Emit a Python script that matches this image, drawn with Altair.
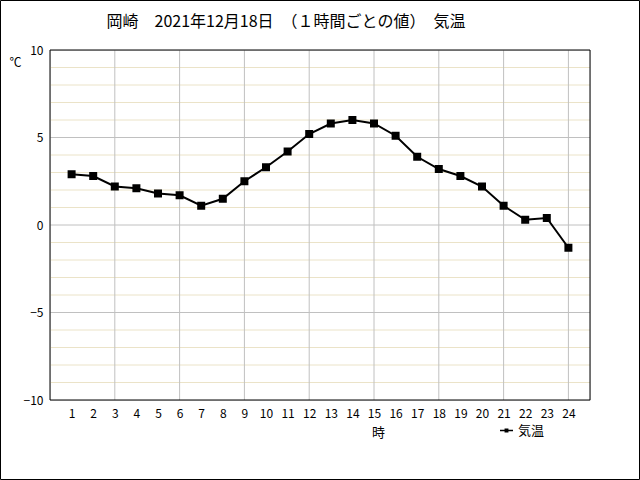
import altair as alt
import pandas as pd

# ---- data ----
hours = list(range(1, 25))
temps = [2.9, 2.8, 2.2, 2.1, 1.8, 1.7, 1.1, 1.5, 2.5, 3.3, 4.2, 5.2,
         5.8, 6.0, 5.8, 5.1, 3.9, 3.2, 2.8, 2.2, 1.1, 0.3, 0.4, -1.3]
y_ticks = [-10, -5, 0, 5, 10]
y_major = [-5, 0, 5]
y_minor = [-9, -8, -7, -6, -4, -3, -2, -1, 1, 2, 3, 4, 6, 7, 8, 9]
x_grid = [3, 6, 9, 12, 15, 18, 21, 24]
series_name = "気温"
title_text = "岡崎　2021年12月18日　（１時間ごとの値）　気温"

FONT = "Noto Sans CJK JP"

df = pd.DataFrame({"hour": hours, "temp": temps, "series": series_name})
xs = alt.Scale(domain=[0, 25], nice=False, zero=False)
ys = alt.Scale(domain=[-10, 10], nice=False, zero=False)

xaxis = alt.Axis(values=hours, grid=False, ticks=False, domain=False,
                 labelFont=FONT, labelFontSize=12, labelColor="black",
                 labelPadding=8, title="時", titleFont=FONT,
                 titleFontSize=13, titleFontWeight="normal", titleColor="black",
                 titleX=328, titleY=32, titleBaseline="middle")
yaxis = alt.Axis(values=y_ticks, grid=False, ticks=False, domain=False,
                 labelFont=FONT, labelFontSize=12, labelColor="black",
                 labelPadding=7, title="℃", titleAngle=0,
                 titleFont=FONT, titleFontSize=12, titleColor="black",
                 titleFontWeight="normal", titleX=-35, titleY=12,
                 titleAlign="center", titleBaseline="middle")

minor = alt.Chart(pd.DataFrame({"temp": y_minor})).mark_rule(
    color="#ebe3c8", strokeWidth=1
).encode(y=alt.Y("temp:Q", scale=ys, axis=yaxis))

major = alt.Chart(pd.DataFrame({"temp": y_major})).mark_rule(
    color="#c0c0c0", strokeWidth=1
).encode(y=alt.Y("temp:Q", scale=ys, axis=yaxis))

vgrid = alt.Chart(pd.DataFrame({"hour": x_grid})).mark_rule(
    color="#c0c0c0", strokeWidth=1
).encode(x=alt.X("hour:Q", scale=xs, axis=xaxis))

color = alt.Color(
    "series:N",
    scale=alt.Scale(domain=[series_name], range=["black"]),
    legend=alt.Legend(
        title=None, orient="none", legendX=450, legendY=374,
        symbolType="M-1,-0.12H1V0.12H-1Z M-0.3,-0.3H0.3V0.3H-0.3Z",
        symbolSize=169, symbolFillColor="black", symbolStrokeWidth=0,
        labelFont=FONT, labelFontSize=13, labelColor="black", labelOffset=5,
        padding=0,
    ),
)

line = alt.Chart(df).mark_line(strokeWidth=2).encode(
    x=alt.X("hour:Q", scale=xs, axis=xaxis),
    y=alt.Y("temp:Q", scale=ys, axis=yaxis),
    color=color,
)

points = alt.Chart(df).mark_square(size=64, opacity=1, filled=True).encode(
    x=alt.X("hour:Q", scale=xs, axis=xaxis),
    y=alt.Y("temp:Q", scale=ys, axis=yaxis),
    color=alt.Color("series:N",
                    scale=alt.Scale(domain=[series_name], range=["black"]),
                    legend=None),
)

title = alt.Chart(pd.DataFrame({"t": [title_text]})).mark_text(
    font=FONT, fontSize=16, color="black", align="center", baseline="middle"
).encode(text="t:N", x=alt.value(236), y=alt.value(-28))

plot_border = alt.Chart(pd.DataFrame({"a": [0]})).mark_rect(
    fill=None, stroke="black", strokeWidth=1
).encode(x=alt.value(0), x2=alt.value(540), y=alt.value(0), y2=alt.value(350))

frame = alt.Chart(pd.DataFrame({"a": [0]})).mark_rect(
    fill=None, stroke="black", strokeWidth=1
).encode(x=alt.value(-49.5), x2=alt.value(589.5),
         y=alt.value(-49.5), y2=alt.value(429.5))

chart = alt.layer(minor, major, vgrid, line, points, title, plot_border, frame).properties(
    width=540, height=350,
    padding={"left": 50, "top": 50, "right": 50, "bottom": 80},
    autosize=alt.AutoSizeParams(type="none"),
).configure_view(stroke=None).configure(background="white")

chart.save("out.html", embed_options={"renderer": "svg", "actions": False})
